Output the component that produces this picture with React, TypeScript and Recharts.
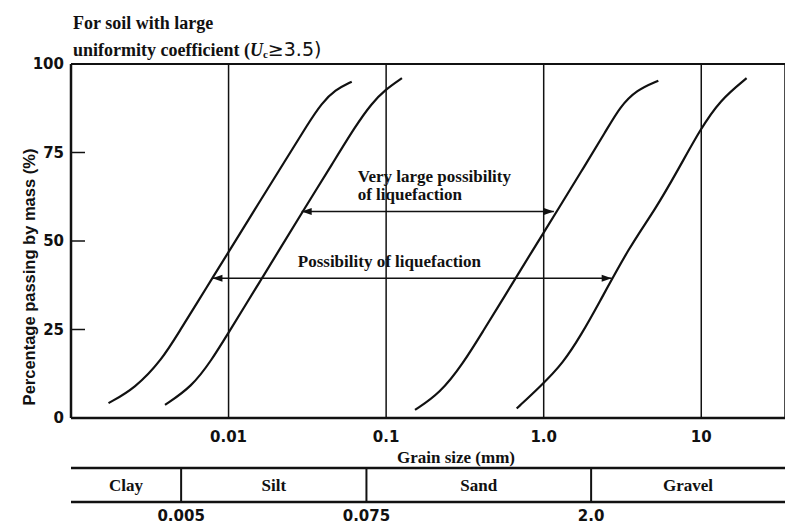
import React from 'react';
import {
  LineChart,
  Line,
  XAxis,
  YAxis,
  CartesianGrid,
  ReferenceLine,
  ReferenceDot,
  ReferenceArea,
  Label
} from 'recharts';

// grain size (mm) vs percentage passing
const finerLimitA = [
  { size: 0.00173, pass: 4.2 },
  { size: 0.00255, pass: 8.4 },
  { size: 0.00377, pass: 16.4 },
  { size: 0.00494, pass: 24.9 },
  { size: 0.00648, pass: 33.3 },
  { size: 0.00788, pass: 39.5 },
  { size: 0.0102, pass: 47.5 },
  { size: 0.0155, pass: 60.6 },
  { size: 0.0223, pass: 71.9 },
  { size: 0.032, pass: 83.2 },
  { size: 0.039, pass: 88.9 },
  { size: 0.0474, pass: 92.7 },
  { size: 0.0605, pass: 95 }
];

const finerLimitB = [
  { size: 0.00395, pass: 3.7 },
  { size: 0.00584, pass: 8.8 },
  { size: 0.00782, pass: 16.4 },
  { size: 0.00993, pass: 23.9 },
  { size: 0.0126, pass: 31.4 },
  { size: 0.0163, pass: 39.5 },
  { size: 0.021, pass: 47.5 },
  { size: 0.03, pass: 58.8 },
  { size: 0.0457, pass: 71.9 },
  { size: 0.0635, pass: 82.3 },
  { size: 0.081, pass: 88.9 },
  { size: 0.0984, pass: 92.7 },
  { size: 0.126, pass: 96 }
];

const coarserLimitA = [
  { size: 0.1525, pass: 2.3 },
  { size: 0.22, pass: 7.0 },
  { size: 0.309, pass: 15.5 },
  { size: 0.417, pass: 24.9 },
  { size: 0.53, pass: 32.4 },
  { size: 0.653, pass: 39.0 },
  { size: 0.855, pass: 47.5 },
  { size: 1.023, pass: 53.1 },
  { size: 1.189, pass: 57.8 },
  { size: 1.703, pass: 69.1 },
  { size: 2.51, pass: 81.4 },
  { size: 3.05, pass: 87.9 },
  { size: 3.89, pass: 92.7 },
  { size: 5.34, pass: 95.3 }
];

const coarserLimitB = [
  { size: 0.674, pass: 2.7 },
  { size: 0.948, pass: 8.8 },
  { size: 1.33, pass: 15.5 },
  { size: 1.75, pass: 23.9 },
  { size: 2.18, pass: 31.4 },
  { size: 3.5, pass: 48.4 },
  { size: 5.09, pass: 58.8 },
  { size: 7.12, pass: 70.1 },
  { size: 9.82, pass: 81.4 },
  { size: 13.15, pass: 89.8 },
  { size: 19.4, pass: 96 }
];

const veryLargeArrow = [
  { size: 0.0291, pass: 58.3 },
  { size: 1.16, pass: 58.3 }
];

const possibilityArrow = [
  { size: 0.0079, pass: 39.5 },
  { size: 2.7, pass: 39.5 }
];

const sizeTicks = [0.01, 0.1, 1, 10];
const passTicks = [0, 25, 50, 75, 100];
const sizeDomain = [0.001, 34];

const soilClasses = ['Clay', 'Silt', 'Sand', 'Gravel'];
const classBounds = [0.001, 0.005, 0.075, 2.0, 34];

const INK = '#111';
const SERIF = '"Liberation Serif", "Times New Roman", serif';
const SANS = '"DejaVu Sans", sans-serif';

const tickFont = { fill: INK, fontSize: 15, fontFamily: SANS, fontWeight: 'bold' };
const noteFont = { fill: INK, fontSize: 17, fontFamily: SERIF, fontWeight: 'bold' };

const fmtSize = (v: number) => (v === 1 ? '1.0' : v === 2 ? '2.0' : String(v));

const PassTick = ({ x, y, payload }: any) => (
  <g>
    <line x1={x + 7} x2={x + 21} y1={y} y2={y} stroke={INK} strokeWidth={1.5} />
    <text x={x} y={y} dy={5} textAnchor="end" {...tickFont}>
      {payload.value}
    </text>
  </g>
);

const ArrowHead = (props: any) => {
  const { cx, cy, index } = props;
  const dir = index === 0 ? -1 : 1;
  return (
    <path
      key={`head-${index}`}
      d={`M${cx},${cy} L${cx - dir * 10},${cy - 3.5} L${cx - dir * 10},${cy + 3.5} Z`}
      fill={INK}
    />
  );
};

const curves = [finerLimitA, finerLimitB, coarserLimitA, coarserLimitB];
const arrows = [veryLargeArrow, possibilityArrow];
const barTop = classBounds.map((size) => ({ size, level: 1 }));

export default function App() {
  return (
    <div style={{ position: 'absolute', left: 0, top: 0, width: 785, height: 528, background: '#fff' }}>
      <div
        style={{
          position: 'absolute',
          left: 73,
          top: 10,
          fontFamily: SERIF,
          fontSize: 18,
          fontWeight: 'bold',
          lineHeight: '26px',
          color: INK,
          whiteSpace: 'nowrap'
        }}
      >
        For soil with large
        <br />
        uniformity coefficient (<i>U</i>
        <span style={{ fontSize: 11, verticalAlign: '-2px' }}>c</span>
        <span style={{ fontFamily: SANS, fontWeight: 'normal', fontSize: 19 }}>≥3.5)</span>
      </div>

      <div style={{ position: 'absolute', left: 0, top: 0 }}>
        <LineChart width={785} height={475} margin={{ top: 64, right: 0, bottom: 0, left: 0 }}>
          <CartesianGrid horizontal={false} stroke={INK} strokeWidth={1.5} />
          <XAxis
            dataKey="size"
            type="number"
            scale="log"
            domain={sizeDomain}
            allowDataOverflow
            ticks={sizeTicks}
            tickFormatter={fmtSize}
            tick={tickFont}
            tickLine={false}
            tickSize={0}
            tickMargin={13}
            height={57}
            axisLine={{ stroke: INK, strokeWidth: 2.5 }}
          >
            <Label value="Grain size (mm)" position="insideBottom" offset={12} dx={28} {...noteFont} />
          </XAxis>
          <YAxis
            type="number"
            domain={[0, 100]}
            ticks={passTicks}
            width={71}
            tick={<PassTick />}
            tickLine={false}
            tickSize={0}
            tickMargin={7}
            axisLine={{ stroke: INK, strokeWidth: 2.5 }}
          >
            <Label
              content={() => (
                <text
                  transform="translate(29,277) rotate(-90)"
                  textAnchor="middle"
                  dominantBaseline="central"
                  fill={INK}
                  fontSize={16.5}
                  fontWeight="bold"
                  fontFamily='"Liberation Sans", Arial, sans-serif'
                >
                  Percentage passing by mass (%)
                </text>
              )}
            />
          </YAxis>
          <ReferenceLine y={100} stroke={INK} strokeWidth={2} />

          {curves.map((c, i) => (
            <Line
              key={`curve-${i}`}
              data={c}
              dataKey="pass"
              type="basis"
              stroke={INK}
              strokeWidth={2.2}
              dot={false}
              activeDot={false}
              isAnimationActive={false}
            />
          ))}
          {arrows.map((a, i) => (
            <Line
              key={`arrow-${i}`}
              data={a}
              dataKey="pass"
              type="linear"
              stroke={INK}
              strokeWidth={1.5}
              dot={ArrowHead}
              activeDot={false}
              isAnimationActive={false}
            />
          ))}

          <ReferenceDot x={0.066} y={68.4} r={0} fill="none" stroke="none">
            <Label value="Very large possibility" position="right" offset={0} {...noteFont} />
          </ReferenceDot>
          <ReferenceDot x={0.066} y={63.2} r={0} fill="none" stroke="none">
            <Label value="of liquefaction" position="right" offset={0} {...noteFont} />
          </ReferenceDot>
          <ReferenceDot x={0.0275} y={44.3} r={0} fill="none" stroke="none">
            <Label value="Possibility of liquefaction" position="right" offset={0} {...noteFont} />
          </ReferenceDot>
        </LineChart>
      </div>

      <div style={{ position: 'absolute', left: 0, top: 466 }}>
        <LineChart width={785} height={62} margin={{ top: 2, right: 0, bottom: 0, left: 71 }}>
          <XAxis
            dataKey="size"
            type="number"
            scale="log"
            domain={sizeDomain}
            allowDataOverflow
            ticks={classBounds.slice(1, 4)}
            tickFormatter={fmtSize}
            tick={tickFont}
            tickLine={false}
            tickSize={0}
            tickMargin={8}
            height={26}
            axisLine={{ stroke: INK, strokeWidth: 2.5 }}
          />
          <YAxis hide type="number" domain={[0, 1]} />
          <Line
            data={barTop}
            dataKey="level"
            type="linear"
            stroke={INK}
            strokeWidth={2.5}
            dot={false}
            activeDot={false}
            isAnimationActive={false}
          />
          {classBounds.slice(1, 4).map((b) => (
            <ReferenceLine key={`div-${b}`} x={b} stroke={INK} strokeWidth={2} />
          ))}
          {soilClasses.map((name, i) => (
            <ReferenceArea
              key={name}
              x1={classBounds[i]}
              x2={classBounds[i + 1]}
              y1={0}
              y2={1}
              fill="none"
              stroke="none"
            >
              <Label value={name} position="center" {...noteFont} />
            </ReferenceArea>
          ))}
        </LineChart>
      </div>
    </div>
  );
}
